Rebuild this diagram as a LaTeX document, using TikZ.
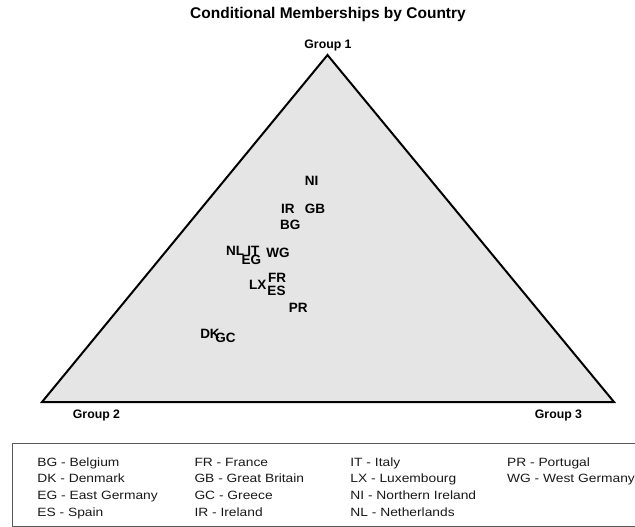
\documentclass[tikz,border=0pt]{standalone}
\usepackage{fontspec}
\setmainfont{Liberation Sans}
\newfontfamily\legfont[FakeStretch=1.15]{Liberation Sans}
\begin{document}
\begin{tikzpicture}[x=1pt,y=-1pt,
  country/.style={font=\fontsize{13.5}{15}\selectfont\bfseries, inner sep=0pt, text height=9.7pt, text depth=0pt, anchor=center},
  grouplab/.style={font=\fontsize{12.3}{14}\selectfont\bfseries, inner sep=0pt, text height=8.8pt, text depth=0pt, anchor=center},
  titlelab/.style={font=\fontsize{15.5}{18}\selectfont\bfseries, inner sep=0pt, text height=11.1pt, text depth=0pt, anchor=center},
  legitem/.style={font=\legfont\fontsize{12}{14}\selectfont, text=black!90, inner sep=0pt, anchor=base west},
  tri/.style={draw=black, line width=2pt, fill=black!10},
  legbox/.style={draw=black!65, line width=1pt}
  ]
\useasboundingbox (0,0) rectangle (635,527);
\clip (0,0) rectangle (635,527);
% title
\node[titlelab] (title) at (328,12.5) {Conditional Memberships by Country};
% triangle
\coordinate (g1) at (327.5,55);
\coordinate (g2) at (42,402);
\coordinate (g3) at (614,402);
\draw[tri] (g1) -- (g2) -- (g3) -- cycle;
\node[grouplab] (lab1) at (328,44.5) {Group 1};
\node[grouplab] (lab2) at (96.5,413.8) {Group 2};
\node[grouplab] (lab3) at (558.5,414) {Group 3};
% countries
\node[country] (NI) at (311.7,180.7) {NI};
\node[country] (IR) at (287.8,208.3) {IR};
\node[country] (GB) at (315,208.3) {GB};
\node[country] (BG) at (290.3,225) {BG};
\node[country] (NL) at (235,250.7) {NL};
\node[country] (IT) at (253.3,250.3) {IT};
\node[country] (WG) at (278,252.3) {WG};
\node[country] (EG) at (251.3,260) {EG};
\node[country] (FR) at (277,277.7) {FR};
\node[country] (LX) at (257.8,285) {LX};
\node[country] (ES) at (276.5,290.7) {ES};
\node[country] (PR) at (298.3,307.3) {PR};
\node[country] (DK) at (210,333.3) {DK};
\node[country] (GC) at (225.5,337.7) {GC};
% legend
\draw[legbox] (12,443) rectangle (660,526);
\node[legitem] (l1) at (37.2,466) {BG - Belgium};
\node[legitem] (l2) at (37.2,482.9) {DK - Denmark};
\node[legitem] (l3) at (37.2,499.8) {EG - East Germany};
\node[legitem] (l4) at (37.2,516.7) {ES - Spain};
\node[legitem] (l5) at (194.3,466) {FR - France};
\node[legitem] (l6) at (194.3,482.9) {GB - Great Britain};
\node[legitem] (l7) at (194.3,499.8) {GC - Greece};
\node[legitem] (l8) at (194.3,516.7) {IR - Ireland};
\node[legitem] (l9) at (350.2,466) {IT - Italy};
\node[legitem] (l10) at (350.2,482.9) {LX - Luxembourg};
\node[legitem] (l11) at (350.2,499.8) {NI - Northern Ireland};
\node[legitem] (l12) at (350.2,516.7) {NL - Netherlands};
\node[legitem] (l13) at (506.9,466) {PR - Portugal};
\node[legitem] (l14) at (506.9,482.9) {WG - West Germany};
\end{tikzpicture}
\end{document}
